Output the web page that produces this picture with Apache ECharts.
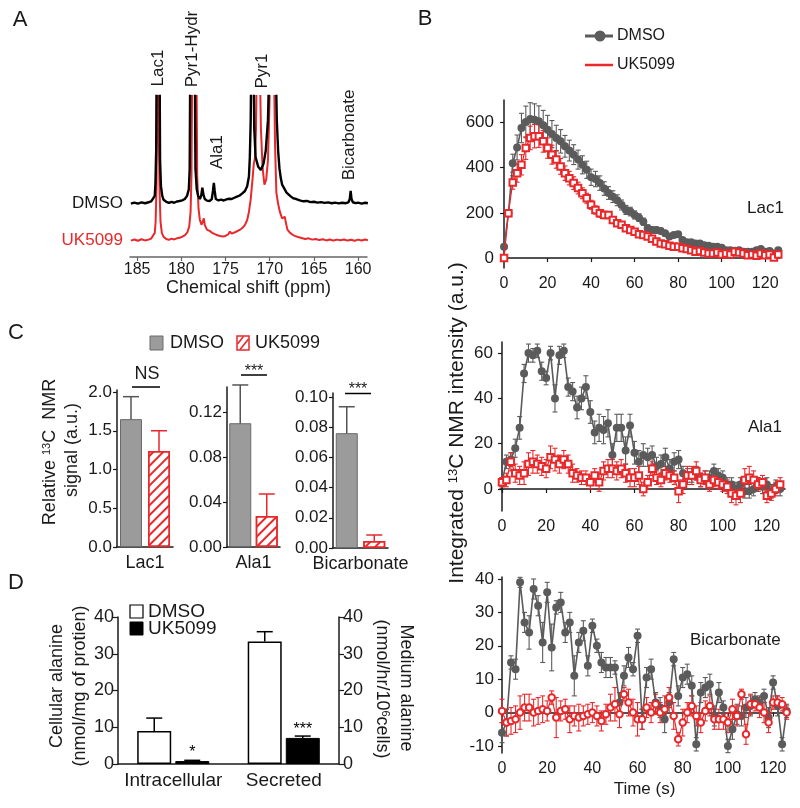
<!DOCTYPE html>
<html><head><meta charset="utf-8">
<script src="https://cdn.jsdelivr.net/npm/echarts@6/dist/echarts.min.js"></script>
<style>html,body{margin:0;padding:0;background:#fff}#c{width:800px;height:808px}</style>
</head><body><div id="c"></div>
<script>
// ---------- DATA ----------
// Panel A: 13C spectra (ppm, relative intensity; 100 = top of frame)
const specDmso = [[185.7,33.2],[185.3,33.8],[184.9,33.1],[184.5,33.9],[184.1,33.4],[183.7,34.0],[183.4,34.5],[183.2,35.5],[183.0,38],[182.92,46],[182.84,66],[182.78,130],[182.46,130],[182.4,60],[182.3,44],[182.15,38],[182.0,35.5],[181.7,34.3],[181.4,33.6],[181.1,34.2],[180.8,33.7],[180.5,34.5],[180.2,34.8],[179.9,35.2],[179.6,36],[179.35,38],[179.15,42],[179.05,55],[178.98,130],[178.48,130],[178.4,55],[178.25,42],[178.1,38],[177.9,36],[177.75,38],[177.62,43],[177.5,39],[177.35,36],[177.1,35],[176.8,34.8],[176.55,36],[176.42,41],[176.32,46],[176.22,41],[176.1,36],[175.8,35.2],[175.5,35.6],[175.2,35.1],[174.9,35.8],[174.6,36.2],[174.3,36.0],[174.0,36.8],[173.7,37.5],[173.4,38.2],[173.1,39.5],[172.8,41],[172.55,44],[172.35,50],[172.25,62],[172.15,85],[172.08,130],[171.85,130],[171.75,80],[171.6,62],[171.3,56],[171.0,54],[170.7,58],[170.45,66],[170.2,85],[170.0,130],[169.35,130],[169.2,85],[169.05,66],[168.9,55],[168.75,49],[168.6,45],[168.45,44],[168.3,42],[168.1,40],[167.9,38.8],[167.6,37.5],[167.3,36.4],[167.0,36],[166.6,35.2],[166.2,34.6],[165.8,34.8],[165.4,34.1],[165.0,34.3],[164.6,33.8],[164.2,34.1],[163.8,33.6],[163.4,33.9],[163.0,33.4],[162.6,33.8],[162.2,33.3],[161.8,33.7],[161.4,33.4],[161.1,34],[160.95,36],[160.85,41],[160.75,36],[160.6,34],[160.3,33.5],[160.0,33.8],[159.6,33.2],[159.2,33.7],[158.9,33.4]];
const specUk = [[185.7,10.2],[185.3,10.9],[184.9,10.1],[184.5,11.0],[184.1,10.3],[183.7,10.8],[183.4,11.5],[183.2,12.5],[183.0,15],[182.9,22],[182.8,45],[182.7,130],[182.56,130],[182.45,40],[182.35,22],[182.2,15],[182.0,12.5],[181.7,11.2],[181.4,10.6],[181.1,11.4],[180.8,10.9],[180.5,11.6],[180.2,11.9],[179.9,12.6],[179.6,13.5],[179.3,15.5],[179.1,19],[178.95,28],[178.85,50],[178.75,130],[178.3,130],[178.2,50],[178.05,30],[177.9,23],[177.7,20],[177.55,21],[177.45,24],[177.35,20],[177.1,17],[176.8,16.2],[176.5,15],[176.2,14.2],[175.9,13.5],[175.6,13.0],[175.3,12.8],[175.0,13.1],[174.7,14],[174.5,15.8],[174.3,14.5],[174.0,15.2],[173.7,16],[173.4,16.8],[173.1,18],[172.8,20],[172.55,23],[172.35,28],[172.15,36],[171.95,48],[171.8,58],[171.65,62],[171.55,80],[171.45,130],[171.15,130],[171.0,80],[170.8,55],[170.6,45],[170.4,48],[170.2,60],[170.05,90],[169.9,130],[169.55,130],[169.4,70],[169.25,40],[169.05,33],[168.85,28],[168.6,24],[168.45,23],[168.3,25],[168.2,22],[168.0,17],[167.7,15],[167.4,13.8],[167.1,13.0],[166.8,12.4],[166.4,11.8],[166.0,11.2],[165.6,11.6],[165.2,10.8],[164.8,11.2],[164.4,10.5],[164.0,11.0],[163.6,10.3],[163.2,10.9],[162.8,10.2],[162.4,10.8],[162.0,10.4],[161.6,10.9],[161.2,10.2],[160.8,10.7],[160.4,10.1],[160.0,10.8],[159.6,10.3],[159.2,10.9],[158.9,10.4]];
const specTicks = [160,165,170,175,180,185];
const peakNames = ['Lac1','Pyr1-Hydr','Ala1','Pyr1','Bicarbonate'];

// Panel B: time courses
const time = [0,2,4,6,8,10,12,14,16,18,20,22,24,26,28,30,32,34,36,38,40,42,44,46,48,50,52,54,56,58,60,62,64,66,68,70,72,74,76,78,80,82,84,86,88,90,92,94,96,98,100,102,104,106,108,110,112,114,116,118,120,122,124,126];
const lacD = [50,198,420,490,576,603,616,613,606,588,568,549,532,517,495,476,458,436,413,391,358,350,332,308,288,272,256,235,213,206,191,179,161,132,124,124,120,110,95,102,105,80,70,70,65,65,57,54,50,50,46,35,35,32,35,28,28,28,35,40,28,31,20,35];
const lacDErr = [8,15,40,55,65,70,72,70,68,66,64,60,56,52,48,46,44,42,40,38,36,34,32,30,28,26,24,22,20,19,18,17,16,15,14,13,12,12,11,11,10,10,9,9,8,8,8,7,7,7,6,6,6,6,5,5,5,5,5,5,5,5,5,5];
const lacU = [0,198,335,376,413,487,532,540,540,517,487,458,436,406,376,354,332,310,287,265,236,213,198,191,191,169,154,147,132,124,117,105,102,95,85,73,65,61,54,50,50,43,40,35,28,31,25,20,20,25,16,20,16,28,25,20,13,16,10,20,13,16,3,16];
const lacUErr = [5,12,30,40,45,50,52,52,50,48,45,42,38,35,32,30,28,26,24,22,20,18,17,16,15,14,13,12,11,10,10,9,9,8,8,8,7,7,7,6,6,6,6,6,5,5,5,5,5,5,5,5,5,5,5,5,5,5,5,5,5,5,5,5];
const alaD = [3,12,13,18,27,51,60,59,61,52,49,60,40,59,61,45,43,36,40,45,34,25,27,26,29,15,27,27,17,28,16,12,15,14,15,10,11,14,9,12,13,7,6,6,7,4,5,5,8,6,5,2,2,0,2,-1,-1,0,2,1,2,-1,1,0];
const alaDErr = [2,3,3,4,5,4,4,3,3,4,3,3,6,4,3,4,4,5,5,5,5,5,6,6,6,5,6,6,6,5,5,5,5,4,4,4,4,4,4,4,4,3,3,3,3,3,3,3,3,3,3,3,3,3,3,3,3,3,3,3,3,3,3,3];
const alaU = [3,4,12,7,6,7,11,12,11,10,9,14,13,11,13,11,7,6,5,5,3,6,3,8,9,9,8,9,7,5,5,6,0,3,9,5,4,7,6,5,-1,2,6,6,8,4,5,2,4,3,2,1,-2,-3,-2,4,5,4,2,3,-3,-2,0,2];
const alaUErr = [2,3,4,4,4,5,5,5,4,4,4,5,5,4,4,4,4,3,3,3,3,3,4,4,4,4,4,4,4,4,4,4,3,3,3,3,3,3,3,3,5,4,4,4,4,3,3,3,3,3,3,3,4,4,4,5,5,4,3,3,3,3,3,3];
const bicD = [-6,-3,15,13,39,27,24,37,32,21,36,19.5,31.5,33,24,27,11,21,24.5,14,26,20,15,13.5,13.5,13.5,3,11,16.5,13,23,-2,10.5,13,3,1.5,-2,3,16,5,10.5,11.5,8,-9.5,6,7.5,8.5,-1,6,1.5,-10,-5,-0.5,-1,1.5,2,4,3,5,-1.5,9,2,-9.5,0.5];
const bicDErr = [3,4,2,3,1.5,3,5,3,3,6,3,7,2,3,3,3,6,3,3,3,2,2,3,3,3,2,3,3,3,2,2,3,3,3,3,3,4,3,2,3,3,3,3,2,3,3,3,3,3,2,2,3,3,3,3,3,2,2,2,3,2,3,2,2];
const bicU = [0.5,-3,-2.5,-2,0,1.5,1.5,0,0.5,1,0.5,4.5,-1.5,0.5,1,-2,-1,-1.5,-1,-0.5,0,-1,-2.5,-0.5,1.5,2.5,-0.5,5.5,3,0,-2,-2,1.5,0,2.5,0,1,4.5,-1,-8,-3,0,2,-1,-3,0.5,2,-2,-2,-2,-3,1,-1,5.5,-6.5,2.5,2.5,1.5,0,-3,3,3,2.5,0];
const bicUErr = [3.5,4,4,4,5,4,4,4,4,4,3,2,6,3,3,4,3,4,3,3,3,3,3,3,4,5,4,2,4,4,5,3,3,3,3,3,4,3,4,2,4,3,3,3,3,3,3,3,3,3,3,3,3,1.5,3,3,2,3,3,3,2,2,2,2];
const timeTicks = [0,20,40,60,80,100,120];
const lacTicks = [0,200,400,600];
const alaTicks = [0,20,40,60];
const bicTicks = [-10,0,10,20,30,40];

// Panel C: relative signal
const cGroups = ['Lac1','Ala1','Bicarbonate'];
const cDmso = [1.65, 0.110, 0.076];
const cDmsoErr = [0.29, 0.034, 0.0175];
const cUk = [1.24, 0.0276, 0.0046];
const cUkErr = [0.26, 0.0195, 0.004];
const cSig = ['NS','***','***'];
const cTicks = [[0,0.5,1,1.5,2],[0,0.04,0.08,0.12],[0,0.02,0.04,0.06,0.08,0.1]];
const cDigits = [1,2,2];

// Panel D: alanine
const dCats = ['Intracellular','Secreted'];
const dDmso = [9.0, 33.3];
const dDmsoErr = [3.5, 2.7];
const dUk = [0.8, 7.1];
const dUkErr = [0.2, 0.5];
const dStars = ['*','***'];

// ---------- STYLE ----------
const F = "'Liberation Sans', Arial, Helvetica, sans-serif";
const GREY = '#5b5b5b', RED = '#e8282b', INK = '#1a1a1a';

const chart = echarts.init(document.getElementById('c'), null, {renderer:'canvas'});

const grids = [
  {left:130, top:96, width:237, height:161},   // A
  {left:501, top:100, width:279, height:168},  // B Lac1
  {left:500, top:342, width:285, height:169},  // B Ala1
  {left:501, top:577, width:287, height:176},  // B Bic
  {left:117, top:390, width:56, height:157},   // C1
  {left:227, top:387, width:53, height:160},   // C2
  {left:333, top:393, width:55, height:155},   // C3
  {left:118, top:617, width:221, height:147}   // D
].map(g => Object.assign({outerBoundsMode:'none', containLabel:false}, g));

const axLine = (c,w) => ({show:true, lineStyle:{color:c||INK, width:w||1.5}});
function valAxis(gi, min, max, ticks, o) {
  o = o || {};
  return Object.assign({
    type:'value', gridIndex:gi, min, max, scale:false,
    axisLine: axLine(o.lineColor), splitLine:{show:false},
    axisTick:{show:true, length:o.tickLen||4, customValues:ticks, lineStyle:{color:o.lineColor||INK, width:1.2}},
    axisLabel:{customValues:ticks, fontFamily:F, fontSize:o.fs||16, color:INK, margin:o.margin||6,
      formatter:o.fmt||(v=>String(v))}
  }, o.extra||{});
}

const xAxes = [
  valAxis(0, 159.0, 185.8, specTicks, {lineColor:'#666', fs:16, margin:5,
    extra:{inverse:true, name:'Chemical shift (ppm)', nameLocation:'middle', nameGap:21,
      nameTextStyle:{fontFamily:F, fontSize:18, color:INK}}}),
  valAxis(1, -1.4, 126.8, timeTicks, {fs:16, margin:8}),
  valAxis(2, -0.9, 128.2, timeTicks, {fs:16, margin:8}),
  valAxis(3, -0.44, 126.6, timeTicks, {fs:16, margin:8,
    extra:{name:'Time (s)', nameLocation:'middle', nameGap:28, nameTextStyle:{fontFamily:F, fontSize:17, color:INK}}}),
];
cGroups.forEach((g,k)=>{
  xAxes.push({type:'category', gridIndex:4+k, data:['DMSO','UK5099'], axisLine:axLine(),
    axisTick:{show:false}, axisLabel:{show:false}, name:g, nameLocation:'middle', nameGap:7,
    nameTextStyle:{fontFamily:F, fontSize:18, color:INK, verticalAlign:'top'}});
});
xAxes.push({type:'category', gridIndex:7, data:dCats, axisLine:axLine(), axisTick:{show:false},
  axisLabel:{fontFamily:F, fontSize:19, color:INK, margin:7, interval:0, hideOverlap:false}});

const yAxes = [
  {type:'value', gridIndex:0, min:0, max:100, show:false},
  valAxis(1, -44, 700, lacTicks, {fs:17, margin:7}),
  valAxis(2, -9.7, 64.9, alaTicks, {fs:17, margin:7}),
  valAxis(3, -12.1, 40.6, bicTicks, {fs:17, margin:7}),
];
const cMax = [2.026, 0.1422, 0.1026];
cGroups.forEach((g,k)=>{
  yAxes.push(valAxis(4+k, 0, cMax[k], cTicks[k], {fs:17, margin:5, tickLen:4, fmt:v=>v.toFixed(cDigits[k])}));
});
yAxes.push({type:'value', gridIndex:7, min:0, max:40, interval:10, position:'left',
  axisLine:axLine(), splitLine:{show:false}, axisTick:{show:true, length:5, lineStyle:{color:INK,width:1.2}},
  axisLabel:{fontFamily:F, fontSize:18, color:INK, margin:4}});
yAxes.push({type:'value', gridIndex:7, min:0, max:40, interval:10, position:'right',
  axisLine:axLine(), splitLine:{show:false}, axisTick:{show:true, length:5, lineStyle:{color:INK,width:1.2}},
  axisLabel:{fontFamily:F, fontSize:18, color:INK, margin:4}});

// error bar custom series
function errSeries(xi, yi, data, color, half, offset, lower, lw) {
  return {type:'custom', xAxisIndex:xi, yAxisIndex:yi, data, silent:true,
    encode:{x:0, y:[1,2]}, z:2,
    renderItem:function(params, api){
      const x = api.value(0), lo = api.value(1), hi = api.value(2);
      const p1 = api.coord([x, lo]), p2 = api.coord([x, hi]);
      const cx = p1[0] + offset;
      const st = {stroke:color, lineWidth:lw||1.2};
      const ch = [
        {type:'line', shape:{x1:cx,y1:p1[1],x2:cx,y2:p2[1]}, style:st},
        {type:'line', shape:{x1:cx-half,y1:p2[1],x2:cx+half,y2:p2[1]}, style:st}];
      if (lower) ch.push({type:'line', shape:{x1:cx-half,y1:p1[1],x2:cx+half,y2:p1[1]}, style:st});
      return {type:'group', children:ch};
    }};
}

const series = [];
// A
series.push({type:'line', name:'UK5099', xAxisIndex:0, yAxisIndex:0, data:specUk, symbol:'none',
  lineStyle:{color:RED, width:2}, itemStyle:{color:RED}, z:2, clip:true});
series.push({type:'line', name:'DMSO', xAxisIndex:0, yAxisIndex:0, data:specDmso, symbol:'none',
  lineStyle:{color:'#000', width:2.4}, itemStyle:{color:'#000'}, z:3, clip:true});

// B
const bSets = [[lacD,lacDErr,lacU,lacUErr,'emptyRect'],[alaD,alaDErr,alaU,alaUErr,'emptyRect'],[bicD,bicDErr,bicU,bicUErr,'emptyCircle']];
bSets.forEach((s,k)=>{
  const ai = k+1;
  const [d,de,u,ue,us] = s;
  series.push(errSeries(ai, ai, time.map((t,i)=>[t, d[i]-de[i], d[i]+de[i]]), GREY, 2.5, 0, true, 1.1));
  series.push({type:'line', name:'DMSO', xAxisIndex:ai, yAxisIndex:ai, data:time.map((t,i)=>[t,d[i]]),
    symbol:'circle', symbolSize:8, showSymbol:true, showAllSymbol:true,
    lineStyle:{color:GREY, width:1.6}, itemStyle:{color:GREY}, z:3});
  series.push(errSeries(ai, ai, time.map((t,i)=>[t, u[i]-ue[i], u[i]+ue[i]]), RED, 2.5, 0, true, 1.1));
  series.push({type:'line', name:'UK5099', xAxisIndex:ai, yAxisIndex:ai, data:time.map((t,i)=>[t,u[i]]),
    symbol:us, symbolSize:6.5, showSymbol:true, showAllSymbol:true,
    lineStyle:{color:RED, width:1.2}, itemStyle:{color:RED, borderWidth:1}, z:4});
});

// C
const greyBar = {color:'#9b9b9b', borderColor:'#6a6a6a', borderWidth:1};
const hatchBar = {color:'#ffffff', borderColor:RED, borderWidth:1.5,
  decal:{symbol:'rect', symbolSize:1, symbolKeepAspect:false, color:RED, dashArrayX:[1,0], dashArrayY:[2,5], rotation:-Math.PI/4}};
cGroups.forEach((g,k)=>{
  const ai = 4+k;
  series.push({type:'bar', name:g, xAxisIndex:ai, yAxisIndex:ai, barWidth:22,
    data:[{value:cDmso[k], itemStyle:greyBar},{value:cUk[k], itemStyle:hatchBar}]});
  series.push(errSeries(ai, ai, [[0, cDmso[k]-cDmsoErr[k], cDmso[k]+cDmsoErr[k]]], '#555', 8, 0, true, 1.5));
  series.push(errSeries(ai, ai, [[1, cUk[k]-cUkErr[k], cUk[k]+cUkErr[k]]], RED, 8, 0, true, 1.5));
});

// D
series.push({type:'bar', name:'DMSO', xAxisIndex:7, yAxisIndex:7, data:dDmso, barWidth:34, barGap:'12%',
  itemStyle:{color:'#fff', borderColor:'#000', borderWidth:1.5}});
series.push({type:'bar', name:'UK5099', xAxisIndex:7, yAxisIndex:7, data:dUk, barWidth:34, barGap:'12%',
  itemStyle:{color:'#000', borderColor:'#000', borderWidth:1},
  label:{show:true, position:'top', distance:0, fontFamily:F, fontSize:16, color:'#000',
    formatter:p=>dStars[p.dataIndex]}});
series.push(errSeries(7, 7, dCats.map((c,i)=>[i, dDmso[i], dDmso[i]+dDmsoErr[i]]), '#000', 8, -19, false, 1.5));
series.push(errSeries(7, 7, dCats.map((c,i)=>[i, dUk[i], dUk[i]+dUkErr[i]]), '#000', 8, 19, false, 1.5));

// ---------- TEXT / ANNOTATIONS ----------
function txt(x, y, text, o) {
  o = o || {};
  return {type:'text', x, y, rotation:o.rot||0, silent:true, z:10,
    style:{text, fill:o.color||INK, fontFamily:F, fontSize:o.fs||17,
      align:o.align||'center', verticalAlign:o.va||'middle', textAlign:o.align||'center', textVerticalAlign:o.va||'middle',
      rich:o.rich}};
}
const ln = (x1,y1,x2,y2,c,w) => ({type:'line', silent:true, z:10, shape:{x1,y1,x2,y2}, style:{stroke:c||'#000', lineWidth:w||1.5}});
const R90 = Math.PI/2;
const supRich = (fs, sfs) => ({a:{fontSize:fs, fontFamily:F, fill:INK, color:INK}, s:{fontSize:sfs, fontFamily:F, fill:INK, color:INK, verticalAlign:'top', padding:[0,0,fs*0.35,0]}});

const peakPos = [[158,68],[192,49],[217,152],[262,71],[349,135]];
const graphic = [
  txt(20,20,'A',{fs:22}), txt(425,19,'B',{fs:22}), txt(16,333,'C',{fs:22}), txt(16,583,'D',{fs:22}),
  txt(123,203,'DMSO',{align:'right'}), txt(123,240,'UK5099',{align:'right', color:RED}),
  // B legend
  ln(585,36,613,36,GREY,3), {type:'circle', silent:true, z:11, shape:{cx:600,cy:36,r:5.5}, style:{fill:GREY}},
  txt(617,36,'DMSO',{align:'left', fs:16}),
  ln(585,65,613,65,RED,2.5), txt(617,65,'UK5099',{align:'left', fs:16}),
  txt(747,208,'Lac1',{align:'left'}), txt(748,427,'Ala1',{align:'left'}), txt(690,640,'Bicarbonate',{align:'left'}),
  txt(457,423,'{a|Integrated }{s|13}{a|C NMR intensity (a.u.)}',{rot:R90, rich:supRich(21,13)}),
  // C legend
  {type:'rect', silent:true, z:10, shape:{x:150,y:336,width:13,height:14}, style:{fill:'#9b9b9b', stroke:'#6a6a6a', lineWidth:1}},
  txt(170,343,'DMSO',{align:'left', fs:18}),
  {type:'rect', silent:true, z:10, shape:{x:237,y:336,width:12,height:14}, style:{fill:'#fff', stroke:RED, lineWidth:1.5}},
  ln(237.5,344,243.5,336.5,RED,1.6), ln(240,349.5,248.5,339,RED,1.6),
  txt(255,343,'UK5099',{align:'left', fs:18}),
  txt(50,452,'{a|Relative }{s|13}{a|C  NMR}',{rot:R90, rich:supRich(18,11)}),
  txt(72,450,'signal (a.u.)',{rot:R90, fs:18}),
  // C significance
  txt(147,374,cSig[0],{fs:18}), ln(132,387,160,387),
  txt(254,372,cSig[1],{fs:16}), ln(241,375,267,375),
  txt(358,390,cSig[2],{fs:16}), ln(345,393.5,371,393.5),
  // D legend
  {type:'rect', silent:true, z:10, shape:{x:130,y:605,width:13,height:13}, style:{fill:'#fff', stroke:'#000', lineWidth:1.2}},
  txt(148,612,'DMSO',{align:'left', fs:19}),
  {type:'rect', silent:true, z:10, shape:{x:130,y:622,width:13,height:13}, style:{fill:'#000', stroke:'#000', lineWidth:1}},
  txt(148,629,'UK5099',{align:'left', fs:19}),
  txt(57,686,'Cellular alanine',{rot:R90, fs:18}),
  txt(80,686,'(nmol/mg of protien)',{rot:R90, fs:18}),
  txt(406,688,'Medium alanine',{rot:-R90, fs:18}),
  txt(382,689,'{a|(nmol/hr/10}{s|6}{a|cells)}',{rot:-R90, rich:supRich(18,11)})
];
peakNames.forEach((n,i)=>graphic.push(txt(peakPos[i][0], peakPos[i][1], n, {rot:R90, fs:17})));

chart.setOption({
  animation:false,
  backgroundColor:'#fff',
  textStyle:{fontFamily:F},
  grid:grids, xAxis:xAxes, yAxis:yAxes, series, graphic
});
</script></body></html>
